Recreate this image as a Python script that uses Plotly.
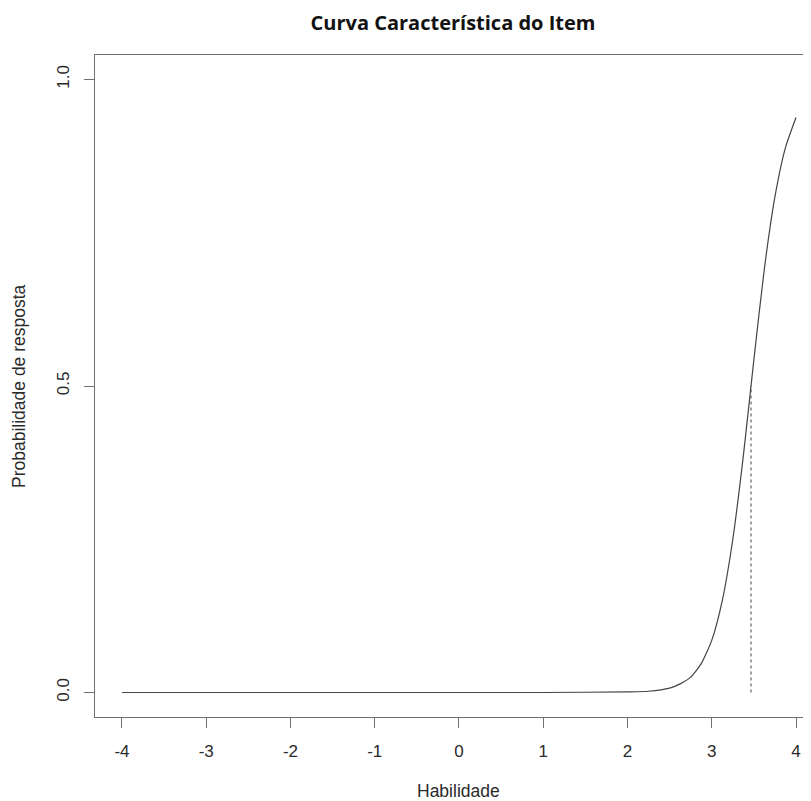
import plotly.graph_objects as go

# Values
habilidade = [-4, -3, -2, -1, 0, 1, 2, 2.25, 2.5, 2.625, 2.75, 2.875, 3.0,
              3.125, 3.25, 3.375, 3.5, 3.625, 3.75, 3.875, 4.0]
probabilidade = [0.0, 0.0, 0.0, 0.0, 0.0, 0.0, 0.001, 0.002, 0.007, 0.014,
                 0.025, 0.047, 0.085, 0.150, 0.250, 0.386, 0.543, 0.692,
                 0.809, 0.889, 0.938]
dificuldade_x = [3.466, 3.466]
dificuldade_y = [0.0, 0.5]

x_ticks = [-4, -3, -2, -1, 0, 1, 2, 3, 4]
x_ticktext = ["-4", "-3", "-2", "-1", "0", "1", "2", "3", "4"]
y_ticks = [0.0, 0.5, 1.0]
y_ticktext = ["0.0", "0.5", "1.0"]

# page has an 8px body margin; figure sized to fill the remaining window
W, H = 803, 793
fig = go.Figure()
fig.add_trace(go.Scatter(x=habilidade, y=probabilidade, mode="lines",
                         line=dict(color="#444444", width=1.2, shape="spline", smoothing=0.6),
                         hoverinfo="skip", showlegend=False))
fig.add_trace(go.Scatter(x=dificuldade_x, y=dificuldade_y, mode="lines",
                         line=dict(color="#444444", width=1, dash="dot"),
                         hoverinfo="skip", showlegend=False))

tick_font = dict(family="Liberation Sans, Arial, sans-serif", size=17, color="#2a2a2a")
title_font = dict(family="Liberation Sans, Arial, sans-serif", size=17.5, color="#2a2a2a")
fig.update_layout(
    width=W, height=H,
    margin=dict(l=87, r=0, t=47, b=84),
    paper_bgcolor="white", plot_bgcolor="white",
    title=dict(text="<b>Curva Característica do Item</b>",
               font=dict(family="Open Sans, Noto Sans, sans-serif", size=20, color="#111111"),
               x=445 / W, xanchor="center", xref="container",
               y=1 - 15 / H, yanchor="middle", yref="container"),
    xaxis=dict(range=[-4.32, 4.178], tickvals=x_ticks, ticktext=x_ticktext,
               showgrid=False, zeroline=False, showline=True, mirror=True,
               linecolor="#707070", linewidth=1.3,
               ticks="outside", ticklen=10, tickcolor="#707070", tickwidth=1.3,
               tickfont=tick_font, ticklabelstandoff=8),
    yaxis=dict(range=[-0.04, 1.04], tickvals=y_ticks, ticktext=y_ticktext,
               showgrid=False, zeroline=False, showline=True, mirror=False,
               linecolor="#707070", linewidth=1.3,
               ticks="outside", ticklen=10, tickcolor="#707070", tickwidth=1.3,
               tickfont=tick_font, tickangle=-90, ticklabelstandoff=8),
    annotations=[
        dict(text="Habilidade", xref="x", yref="paper", x=0, y=0,
             xanchor="center", yanchor="middle", yshift=-74, showarrow=False,
             font=title_font),
        dict(text="Probabilidade de resposta", xref="paper", yref="y", x=0, y=0.5,
             xanchor="center", yanchor="middle", xshift=-76, textangle=-90,
             showarrow=False, font=title_font),
    ],
)
fig.write_html("out.html")
